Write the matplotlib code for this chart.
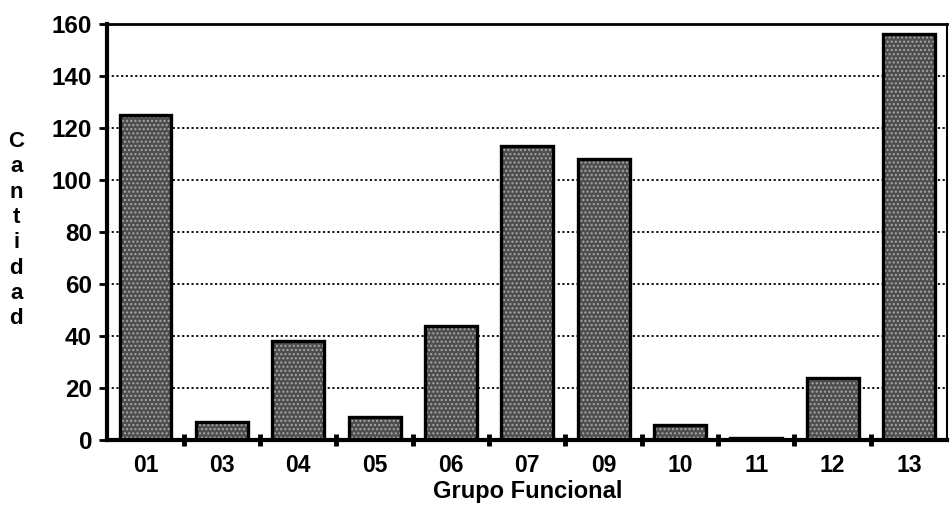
"""Bar chart of counts per functional group."""

import matplotlib
matplotlib.use("Agg")
import matplotlib.pyplot as plt
import numpy as np

grupos = ["01", "03", "04", "05", "06", "07", "09", "10", "11", "12", "13"]
cantidad = [125, 7, 38, 9, 44, 113, 108, 6, 1, 24, 156]
y_ticks = [0, 20, 40, 60, 80, 100, 120, 140, 160]

plt.rcParams["font.family"] = ["Liberation Sans", "DejaVu Sans"]

fig = plt.figure(figsize=(9.5, 5.09), dpi=100)
ax = fig.add_axes([0.113, 0.135, 0.884, 0.818])

x = np.arange(len(grupos))

# dotted grid lines sit behind the bars
for v in y_ticks[1:-1]:
    ax.axhline(v, color="black", lw=1.3, ls=(0, (1.2, 1.4)), zorder=1)

ax.bar(x, cantidad, width=0.68, color="#4e4e4e", edgecolor="#a8a8a8",
       hatch="....", linewidth=0, zorder=2)
ax.bar(x, cantidad, width=0.68, fill=False, edgecolor="black",
       linewidth=2.4, zorder=3)

ax.set_xlim(-0.5, len(grupos) - 0.5)
ax.set_ylim(0, 160)

ax.set_yticks(y_ticks)
ax.set_yticklabels([str(v) for v in y_ticks], fontsize=17.5, fontweight="bold")
ax.tick_params(axis="y", direction="out", length=6, width=2, pad=5)

ax.set_xticks(x)
ax.set_xticklabels(grupos, fontsize=16.5, fontweight="bold")
ax.tick_params(axis="x", which="major", length=0, pad=10)
ax.set_xticks(x[:-1] + 0.5, minor=True)
ax.tick_params(axis="x", which="minor", direction="inout", length=9, width=3.5)

for side in ["left", "bottom"]:
    ax.spines[side].set_linewidth(3)
ax.spines["top"].set_linewidth(2)
ax.spines["right"].set_linewidth(1.5)

ax.set_xlabel("Grupo Funcional", fontsize=17, fontweight="bold", labelpad=2)
fig.text(0.017, 0.548, "\n".join("Cantidad"), fontsize=16, fontweight="bold",
         ha="center", va="center", linespacing=1.27)

fig.savefig("out.png", dpi=100)
